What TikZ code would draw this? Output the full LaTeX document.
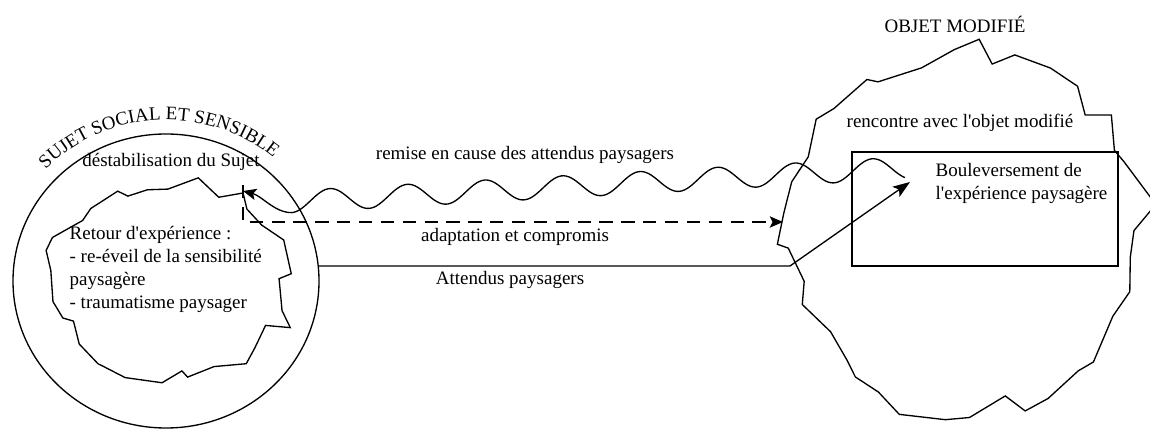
\documentclass[tikz,border=0pt]{standalone}
\usepackage{fontspec}
\setmainfont{Liberation Serif}[Ligatures=TeXOff]
\usetikzlibrary{arrows.meta, decorations.text}

\begin{document}
\begin{tikzpicture}[x=0.0185cm, y=-0.0185cm, line width=0.7pt,
    txt/.style={inner sep=0pt, anchor=base},
    bloc/.style={inner sep=0pt, anchor=north west, align=left},
    pointe/.style={-{Stealth[length=7pt, width=6pt, inset=1.5pt]}}]
  \useasboundingbox (0,0) rectangle (1150,430);
  \pgfmathsetseed{23}
  % le sujet
  \draw (166,281) coordinate (S) ellipse [x radius=153, y radius=147];
  \draw plot[domain=0:349, samples=33] ({170+120*cos(\x)+11*rand}, {283+98*sin(\x)+11*rand}) -- cycle;
  \path[decorate, decoration={text along path, text={SUJET SOCIAL ET SENSIBLE}, text align=center}]
    (S) ++(-140:167 and 161) arc[start angle=-140, end angle=-46, x radius=167, y radius=161];
  \node[txt] (destab) at (171,167) {déstabilisation du Sujet};
  \node[bloc] (retourexp) at (69,226) {Retour d'expérience :\\- re-éveil de la sensibilité\\paysagère\\- traumatisme paysager};
  % l'objet
  \draw plot[domain=0:351, samples=40] ({968+176*cos(\x)+16*rand}, {230+178*sin(\x)+16*rand}) -- cycle;
  \node[txt] (objet) at (955,33) {OBJET MODIFIÉ};
  \node[txt] (rencontre) at (960,128) {rencontre avec l'objet modifié};
  \draw (852,152) coordinate (boiteNW) rectangle (1118,266) coordinate (boiteSE);
  \node[bloc] (boul) at (935,163) {Bouleversement de\\l'expérience paysagère};
  % les liens
  \coordinate (retour) at (243,191);
  \coordinate (choc) at (910,182);
  \draw[pointe] plot[domain=905:292, samples=240, smooth] (\x, {199-(\x-340)*0.0549-11*cos((\x-330)/77.5*360)})
    .. controls (275,213) and (262,196) .. (retour);
  \node[txt] (remise) at (525,160) {remise en cause des attendus paysagers};
  \coordinate (dA) at (243,185);
  \coordinate (dB) at (243,222);
  \coordinate (dC) at (783,222);
  \draw[pointe, dash pattern=on 7pt off 4.5pt] (dA) -- (dB) -- (dC);
  \node[txt] (adapt) at (515,242) {adaptation et compromis};
  \coordinate (attL) at (318,266);
  \coordinate (attR) at (790,266);
  \draw[-{Stealth[length=9pt, width=6.5pt, inset=2pt]}] (attL) -- (attR) -- (choc);
  \node[txt] (attendus) at (510,285) {Attendus paysagers};
\end{tikzpicture}
\end{document}
